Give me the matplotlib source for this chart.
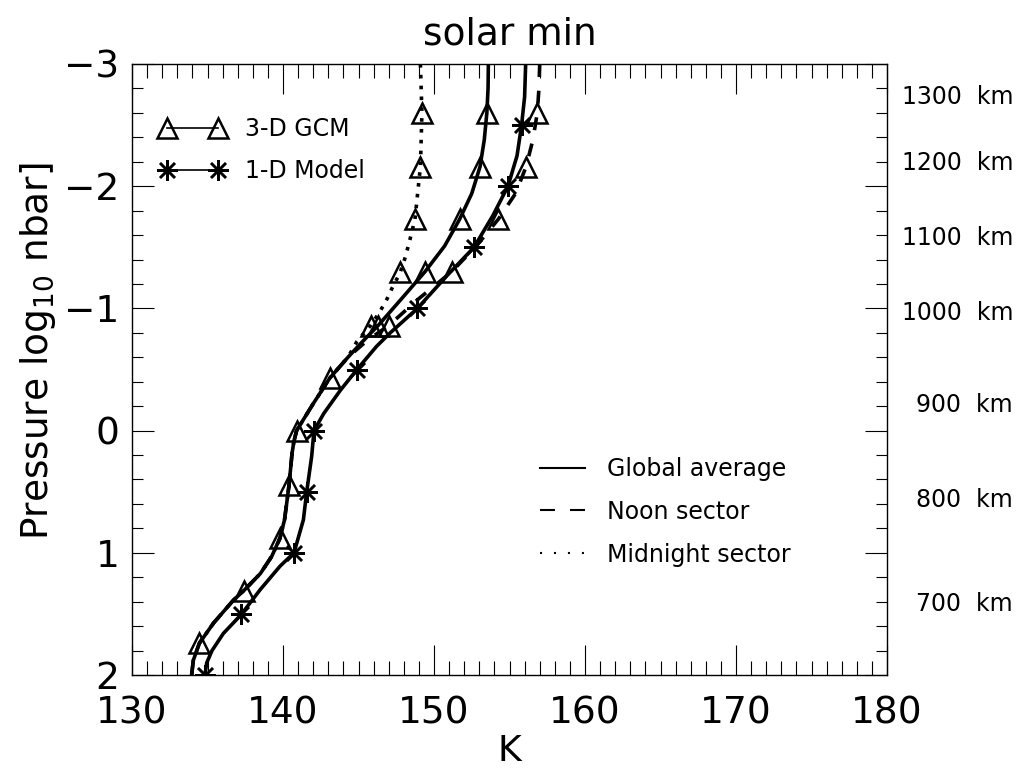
import matplotlib
matplotlib.use("Agg")
import matplotlib.pyplot as plt
from matplotlib.lines import Line2D
from matplotlib.ticker import MultipleLocator
from matplotlib.transforms import blended_transform_factory

plt.rcParams['font.family'] = ['DejaVu Sans']

# ---- temperature profiles (K) versus log10 pressure (nbar) ----
# 3-D GCM: the three sectors share one profile below about -0.6
gcm_lower_p = [-0.60, -0.43, -0.22, -0.10, 0.0, 0.09, 0.185, 0.445, 0.59, 0.73,
               0.88, 1.03, 1.17, 1.31, 1.39, 1.575, 1.74, 1.88, 2.0]
gcm_lower_T = [144.3, 143.1, 142.0, 141.4, 140.9, 140.72, 140.6, 140.4, 140.25, 140.1,
               139.8, 139.25, 138.5, 137.4, 136.7, 135.4, 134.46, 134.06, 133.95]

global_upper_p = [-3.0, -2.8, -2.6, -2.38, -2.16, -1.94, -1.73, -1.51, -1.30, -1.10, -0.86, -0.72]
global_upper_T = [153.6, 153.58, 153.5, 153.33, 153.05, 152.5, 151.7, 150.7, 149.4, 148.0, 146.3, 145.2]

noon_upper_p = [-3.0, -2.8, -2.6, -2.38, -2.16, -1.94, -1.73, -1.51, -1.30, -1.07, -0.86, -0.74]
noon_upper_T = [157.0, 156.95, 156.84, 156.55, 156.1, 155.4, 154.26, 152.8, 151.17, 148.9, 147.0, 145.6]

midnight_upper_p = [-3.0, -2.6, -2.16, -1.73, -1.56, -1.42, -1.29, -1.16, -1.08, -0.97, -0.86, -0.73]
midnight_upper_T = [149.1, 149.2, 149.1, 148.74, 148.4, 148.1, 147.75, 147.2, 146.9, 146.4, 145.8, 144.9]

# GCM model levels where markers are drawn
gcm_level_p = [-2.6, -2.16, -1.73, -1.30, -0.86, -0.43, 0.0, 0.445, 0.88, 1.31, 1.74]
global_level_T = [153.5, 153.05, 151.7, 149.4, 146.3, 143.1, 140.9, 140.4, 139.8, 137.4, 134.46]
noon_level_T = [156.84, 156.1, 154.26, 151.17, 147.0]
midnight_level_T = [149.2, 149.1, 148.74, 147.75, 145.8]

# 1-D model
oned_p = [-3.0, -2.73, -2.5, -2.25, -2.0, -1.76, -1.5, -1.26, -1.0, -0.80, -0.69, -0.5,
          -0.33, -0.14, 0.0, 0.21, 0.5, 0.73, 1.0, 1.11, 1.30, 1.51, 1.66, 1.80, 1.90, 2.0]
oned_T = [156.07, 156.0, 155.8, 155.5, 154.9, 153.9, 152.65, 150.8, 148.9, 147.1, 146.2, 144.9,
          143.8, 142.7, 142.05, 141.9, 141.57, 141.35, 140.73, 139.8, 138.5, 137.2, 136.05, 135.3,
          134.95, 134.83]
oned_level_p = [-2.5, -2.0, -1.5, -1.0, -0.5, 0.0, 0.5, 1.0, 1.5, 2.0]
oned_level_T = [155.8, 154.9, 152.65, 148.9, 144.9, 142.05, 141.57, 140.73, 137.2, 134.83]

# altitude labels on the right-hand side
alt_labels = ['1300  km', '1200  km', '1100  km', '1000  km', '900  km', '800  km', '700  km']
alt_p = [-2.73, -2.19, -1.58, -0.96, -0.21, 0.57, 1.42]

x_ticks = [130, 140, 150, 160, 170, 180]
y_ticks = [-3, -2, -1, 0, 1, 2]

# ---- figure ----
fig = plt.figure(figsize=(10.21, 7.72), dpi=100)
ax = fig.add_axes([132 / 1021, 1 - 675 / 772, 755 / 1021, 611 / 772])

LW = 2.6
tri = dict(marker='^', ms=14, mfc='none', mec='k', mew=1.8, ls='none')
ast = dict(marker=(8, 2, 0), ms=15, mec='k', mew=1.8, ls='none')

glob_p = global_upper_p + gcm_lower_p
glob_T = global_upper_T + gcm_lower_T
noon_p = noon_upper_p + gcm_lower_p
noon_T = noon_upper_T + gcm_lower_T
mid_p = midnight_upper_p + gcm_lower_p
mid_T = midnight_upper_T + gcm_lower_T

ax.plot(glob_T, glob_p, color='k', lw=LW)
ax.plot(noon_T, noon_p, color='k', lw=LW, ls=(0, (3.6, 3.8)))
ax.plot(mid_T, mid_p, color='k', lw=LW, ls=(0, (1, 2.0)))
ax.plot(oned_T, oned_p, color='k', lw=LW)

ax.plot(global_level_T, gcm_level_p, **tri)
ax.plot(noon_level_T, gcm_level_p[:len(noon_level_T)], **tri)
ax.plot(midnight_level_T, gcm_level_p[:len(midnight_level_T)], **tri)
ax.plot(oned_level_T, oned_level_p, **ast)

# ---- axes ----
ax.set_xlim(130, 180)
ax.set_ylim(2, -3)
ax.set_xticks(x_ticks)
ax.set_yticks(y_ticks)
ax.xaxis.set_minor_locator(MultipleLocator(1))
ax.yaxis.set_minor_locator(MultipleLocator(0.2))
ax.tick_params(axis='x', which='major', direction='in', length=21.5, width=0.8,
               top=True, bottom=True, labelsize=27, pad=15)
ax.tick_params(axis='x', which='minor', direction='in', length=10, width=0.8,
               top=True, bottom=True)
ax.tick_params(axis='y', which='major', direction='in', length=16, width=0.8,
               left=True, right=True, labelsize=27, pad=9)
ax.tick_params(axis='y', which='minor', direction='in', length=8, width=0.8,
               left=True, right=True)
for s in ax.spines.values():
    s.set_linewidth(1.0)

ax.set_title('solar min', fontsize=27, pad=14)
ax.set_xlabel('K', fontsize=26)
ax.xaxis.set_label_coords(0.5, -0.097)
ax.set_ylabel(r'Pressure log$_{10}$ nbar]', fontsize=27)
ax.yaxis.set_label_coords(-0.098, 0.53)

trans = blended_transform_factory(ax.transAxes, ax.transData)
for lab, p in zip(alt_labels, alt_p):
    ax.text(1.167, p, lab, transform=trans, ha='right', va='center', fontsize=17)

# ---- legends ----
h_models = [Line2D([0], [0], color='k', lw=1.2, marker='^', ms=14, mfc='none', mew=1.8),
            Line2D([0], [0], color='k', lw=1.2, marker=(8, 2, 0), ms=15, mew=1.8)]
leg1 = ax.legend(h_models, ['3-D GCM', '1-D Model'], loc='upper left',
                 bbox_to_anchor=(0.037, 0.913), frameon=False, fontsize=17,
                 numpoints=2, handlelength=2.75, handletextpad=0.85,
                 labelspacing=0.76, borderpad=0, borderaxespad=0)
ax.add_artist(leg1)

h_sectors = [Line2D([0], [0], color='k', lw=1.5),
             Line2D([0], [0], color='k', lw=1.5, ls=(0, (7.2, 7.2))),
             Line2D([0], [0], color='k', lw=1.5, ls=(0, (1, 5.7)))]
ax.legend(h_sectors, ['Global average', 'Noon sector', 'Midnight sector'],
          loc='upper left', bbox_to_anchor=(0.540, 0.357), frameon=False,
          fontsize=17, handlelength=1.9, handletextpad=0.97,
          labelspacing=0.8, borderpad=0, borderaxespad=0)

fig.savefig('out.png', dpi=100)
